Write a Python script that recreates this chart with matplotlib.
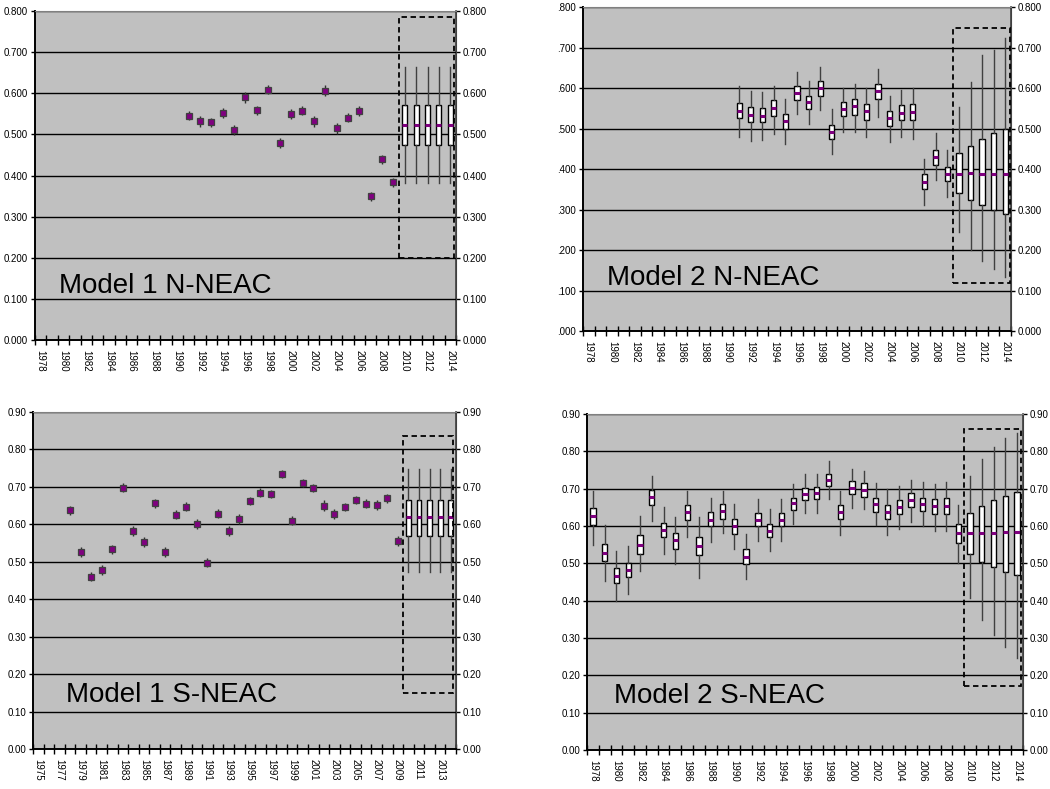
import numpy as np
import matplotlib
matplotlib.use("Agg")
import matplotlib.pyplot as plt
from matplotlib.patches import Rectangle

plt.rcParams['font.family'] = ['Liberation Sans Narrow', 'Liberation Sans', 'DejaVu Sans']

PURPLE = '#800080'
PLOT_BG = '#C0C0C0'

# ---- Model 1 N-NEAC: annual estimates + projection boxes ----
m1n_years = list(range(1991, 2010))
m1n_est = [0.545, 0.532, 0.529, 0.553, 0.511, 0.590, 0.559, 0.608, 0.479, 0.550,
           0.558, 0.532, 0.606, 0.515, 0.541, 0.557, 0.349, 0.440, 0.383]
m1n_err = [0.011, 0.013, 0.012, 0.012, 0.013, 0.013, 0.011, 0.011, 0.013, 0.012,
           0.012, 0.013, 0.013, 0.013, 0.012, 0.012, 0.010, 0.011, 0.011]
m1n_proj_years = [2010, 2011, 2012, 2013, 2014]
m1n_proj_med = [0.524, 0.524, 0.524, 0.524, 0.524]
m1n_proj_q1 = [0.475, 0.475, 0.475, 0.475, 0.475]
m1n_proj_q3 = [0.571, 0.571, 0.571, 0.571, 0.571]
m1n_proj_lo = [0.381, 0.381, 0.381, 0.381, 0.381]
m1n_proj_hi = [0.663, 0.663, 0.663, 0.663, 0.663]

# ---- Model 2 N-NEAC: boxes for every year ----
m2n_years = list(range(1991, 2015))
m2n_med = [0.544, 0.534, 0.532, 0.551, 0.519, 0.588, 0.565, 0.599, 0.492, 0.548, 0.555, 0.543,
           0.593, 0.526, 0.539, 0.540, 0.369, 0.430, 0.388, 0.388, 0.391, 0.388, 0.388, 0.388]
m2n_q3 = [0.563, 0.553, 0.551, 0.570, 0.537, 0.604, 0.581, 0.617, 0.509, 0.565, 0.573, 0.561,
          0.610, 0.542, 0.557, 0.561, 0.388, 0.448, 0.406, 0.440, 0.458, 0.473, 0.488, 0.498]
m2n_q1 = [0.525, 0.515, 0.515, 0.531, 0.500, 0.571, 0.548, 0.581, 0.474, 0.530, 0.534, 0.522,
          0.572, 0.507, 0.522, 0.522, 0.350, 0.411, 0.370, 0.341, 0.323, 0.310, 0.300, 0.290]
m2n_hi = [0.605, 0.593, 0.590, 0.605, 0.572, 0.640, 0.617, 0.651, 0.548, 0.600, 0.611, 0.600,
          0.648, 0.580, 0.594, 0.600, 0.424, 0.490, 0.447, 0.553, 0.614, 0.681, 0.695, 0.724]
m2n_lo = [0.479, 0.470, 0.472, 0.487, 0.461, 0.535, 0.510, 0.545, 0.436, 0.492, 0.492, 0.478,
          0.529, 0.466, 0.480, 0.474, 0.312, 0.372, 0.330, 0.245, 0.201, 0.173, 0.152, 0.134]

# ---- Model 1 S-NEAC ----
m1s_years = list(range(1978, 2010))
m1s_est = [0.638, 0.527, 0.460, 0.478, 0.533, 0.698, 0.582, 0.553, 0.656, 0.526, 0.626,
           0.647, 0.601, 0.498, 0.628, 0.582, 0.614, 0.662, 0.685, 0.681, 0.735, 0.610,
           0.711, 0.698, 0.650, 0.628, 0.647, 0.665, 0.655, 0.652, 0.669, 0.556]
m1s_err = [0.012, 0.013, 0.012, 0.013, 0.013, 0.012, 0.014, 0.014, 0.012, 0.013, 0.013,
           0.012, 0.013, 0.011, 0.012, 0.013, 0.013, 0.011, 0.012, 0.012, 0.011, 0.013,
           0.011, 0.011, 0.014, 0.013, 0.011, 0.012, 0.012, 0.013, 0.012, 0.013]
m1s_proj_years = [2010, 2011, 2012, 2013, 2014]
m1s_proj_med = [0.619, 0.619, 0.619, 0.619, 0.619]
m1s_proj_q1 = [0.570, 0.570, 0.570, 0.570, 0.570]
m1s_proj_q3 = [0.665, 0.665, 0.665, 0.665, 0.665]
m1s_proj_lo = [0.472, 0.472, 0.472, 0.472, 0.472]
m1s_proj_hi = [0.749, 0.749, 0.749, 0.749, 0.749]

# ---- Model 2 S-NEAC ----
m2s_years = list(range(1978, 2015))
m2s_med = [0.627, 0.529, 0.467, 0.481, 0.550, 0.679, 0.589, 0.562, 0.637, 0.547, 0.617, 0.639,
           0.599, 0.517, 0.615, 0.587, 0.617, 0.661, 0.686, 0.688, 0.723, 0.638, 0.703, 0.697,
           0.658, 0.638, 0.650, 0.670, 0.660, 0.653, 0.654, 0.580, 0.582, 0.582, 0.582, 0.585, 0.585]
m2s_q3 = [0.648, 0.552, 0.488, 0.500, 0.575, 0.696, 0.608, 0.582, 0.655, 0.571, 0.637, 0.658,
          0.618, 0.538, 0.634, 0.606, 0.634, 0.676, 0.703, 0.704, 0.740, 0.657, 0.721, 0.714,
          0.676, 0.655, 0.670, 0.688, 0.676, 0.673, 0.675, 0.605, 0.636, 0.654, 0.670, 0.681, 0.690]
m2s_q1 = [0.604, 0.507, 0.446, 0.463, 0.525, 0.657, 0.570, 0.539, 0.616, 0.521, 0.599, 0.620,
          0.579, 0.498, 0.599, 0.570, 0.599, 0.643, 0.670, 0.671, 0.707, 0.618, 0.685, 0.679,
          0.638, 0.618, 0.631, 0.650, 0.641, 0.632, 0.632, 0.554, 0.524, 0.504, 0.491, 0.478, 0.469]
m2s_hi = [0.694, 0.602, 0.534, 0.546, 0.628, 0.733, 0.651, 0.625, 0.694, 0.625, 0.675, 0.694,
          0.659, 0.579, 0.672, 0.645, 0.672, 0.713, 0.739, 0.739, 0.774, 0.694, 0.752, 0.747,
          0.715, 0.698, 0.707, 0.724, 0.718, 0.712, 0.717, 0.655, 0.735, 0.780, 0.811, 0.835, 0.850]
m2s_lo = [0.550, 0.454, 0.399, 0.419, 0.479, 0.614, 0.525, 0.498, 0.571, 0.462, 0.558, 0.581,
          0.539, 0.457, 0.560, 0.532, 0.560, 0.606, 0.636, 0.636, 0.671, 0.576, 0.649, 0.645,
          0.602, 0.576, 0.593, 0.612, 0.601, 0.587, 0.587, 0.502, 0.406, 0.348, 0.309, 0.277, 0.246]


def setup_axes(ax, first, last, ymax, ystep, left_fmt, right_fmt, label_start):
    ax.set_facecolor(PLOT_BG)
    ax.set_xlim(first - 0.5, last + 0.5)
    ax.set_ylim(0, ymax)
    yt = np.arange(0, ymax + ystep / 2, ystep)
    ax.set_yticks(yt, [left_fmt(v) for v in yt])
    ax.yaxis.grid(True, color='black', lw=1.0)
    ax.set_axisbelow(True)
    ax.tick_params(axis='y', direction='out', length=3, width=1, labelsize=7, pad=2)

    # category boundaries carry the tick marks, every other year gets a label
    bounds = np.arange(first - 0.5, last + 0.6, 1)
    ax.set_xticks(bounds, [''] * len(bounds))
    lab_years = list(range(label_start, last + 1, 2))
    ax.set_xticks(lab_years, [str(y) for y in lab_years], minor=True)
    ax.tick_params(axis='x', which='major', direction='inout', length=7, width=1)
    ax.tick_params(axis='x', which='minor', length=0, labelsize=7, labelrotation=270, pad=7)

    for s in ['left', 'bottom']:
        ax.spines[s].set_color('black')
        ax.spines[s].set_linewidth(1.4)
    ax.spines['top'].set_color('#808080')
    ax.spines['right'].set_color('#404040')

    sec = ax.secondary_yaxis('right')
    sec.set_yticks(yt, [right_fmt(v) for v in yt])
    sec.tick_params(direction='out', length=3, width=1, labelsize=7, pad=2)
    sec.spines['right'].set_color('#404040')
    sec.spines['right'].set_linewidth(1.2)


def draw_points(ax, years, est, err):
    est = np.array(est)
    err = np.array(err)
    ax.vlines(years, est - err, est + err, color='#303030', lw=1, zorder=2)
    ax.plot(years, est, ls='none', marker='s', ms=4.8, mfc=PURPLE, mec='#404040', mew=0.9, zorder=3)


def draw_boxes(ax, years, med, q1, q3, lo, hi):
    stats = [dict(med=m, q1=a, q3=b, whislo=l, whishi=h)
             for m, a, b, l, h in zip(med, q1, q3, lo, hi)]
    ax.bxp(stats, positions=years, widths=0.45, patch_artist=True,
           showfliers=False, showcaps=False, manage_ticks=False,
           boxprops=dict(facecolor='white', edgecolor='black', lw=1),
           medianprops=dict(color=PURPLE, lw=2.2),
           whiskerprops=dict(color='#404040', lw=1))


def proj_frame(ax, x_right, y0, y1):
    ax.add_patch(Rectangle((2009.5, y0), x_right - 2009.5, y1 - y0, fill=False,
                           ec='black', lw=1.3, ls=(0, (3, 2)), zorder=4))


def model_label(ax, x, y, text):
    ax.text(x, y, text, transform=ax.transAxes, fontsize=20, va='baseline',
            family=['Liberation Sans', 'DejaVu Sans'])


fig = plt.figure(figsize=(10.5, 7.89), dpi=100)

fmt3 = lambda v: f"{v:.3f}"
fmt3_short = lambda v: f"{v:.3f}"[1:]
fmt2 = lambda v: f"{v:.2f}"

# top left
ax1 = fig.add_axes([35 / 1050, 1 - 340 / 789, 421 / 1050, 329 / 789])
setup_axes(ax1, 1978, 2014, 0.8, 0.1, fmt3, fmt3, 1978)
draw_points(ax1, m1n_years, m1n_est, m1n_err)
draw_boxes(ax1, m1n_proj_years, m1n_proj_med, m1n_proj_q1, m1n_proj_q3, m1n_proj_lo, m1n_proj_hi)
proj_frame(ax1, 2014.33, 0.200, 0.785)
model_label(ax1, 0.057, 0.143, "Model 1 N-NEAC")

# top right
ax2 = fig.add_axes([583 / 1050, 1 - 331 / 789, 428 / 1050, 324 / 789])
setup_axes(ax2, 1978, 2014, 0.8, 0.1, fmt3_short, fmt3, 1978)
draw_boxes(ax2, m2n_years, m2n_med, m2n_q1, m2n_q3, m2n_lo, m2n_hi)
proj_frame(ax2, 2014.41, 0.118, 0.749)
model_label(ax2, 0.056, 0.142, "Model 2 N-NEAC")

# bottom left
ax3 = fig.add_axes([33 / 1050, 1 - 749 / 789, 423 / 1050, 337 / 789])
setup_axes(ax3, 1975, 2014, 0.9, 0.1, fmt2, fmt2, 1975)
draw_points(ax3, m1s_years, m1s_est, m1s_err)
draw_boxes(ax3, m1s_proj_years, m1s_proj_med, m1s_proj_q1, m1s_proj_q3, m1s_proj_lo, m1s_proj_hi)
proj_frame(ax3, 2014.22, 0.150, 0.837)
model_label(ax3, 0.077, 0.140, "Model 1 S-NEAC")

# bottom right
ax4 = fig.add_axes([587 / 1050, 1 - 750 / 789, 436 / 1050, 336 / 789])
setup_axes(ax4, 1978, 2014, 0.9, 0.1, fmt2, fmt2, 1978)
draw_boxes(ax4, m2s_years, m2s_med, m2s_q1, m2s_q3, m2s_lo, m2s_hi)
proj_frame(ax4, 2014.3, 0.172, 0.859)
model_label(ax4, 0.062, 0.141, "Model 2 S-NEAC")

fig.savefig('out.png', dpi=100)
